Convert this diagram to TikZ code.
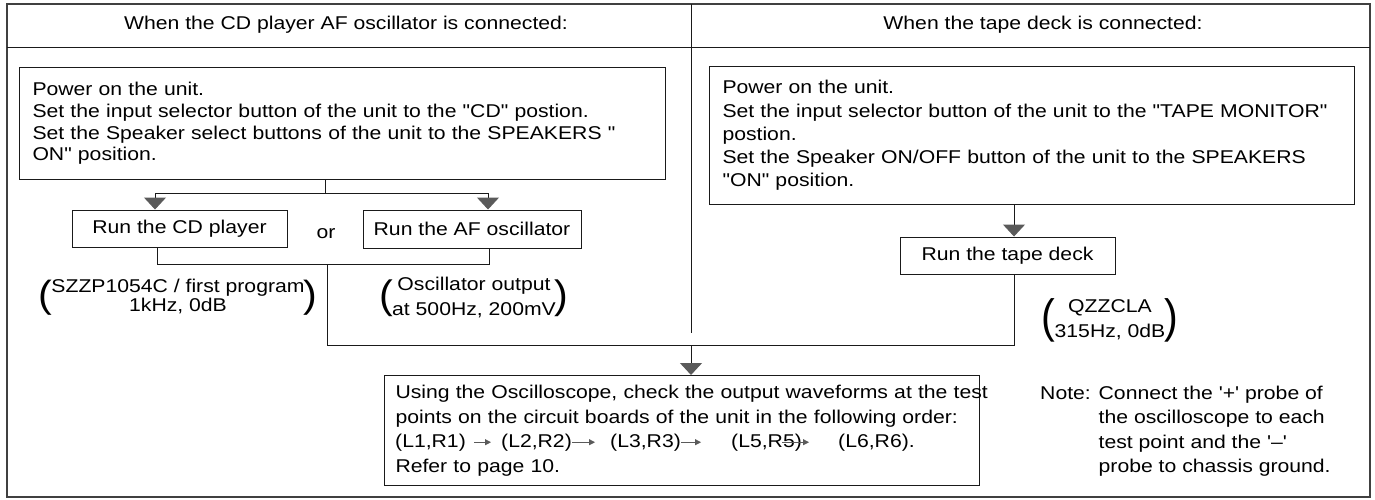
\documentclass[tikz,border=0pt]{standalone}
\usepackage{fontspec}
\setmainfont{Liberation Sans}[FakeStretch=1.145,Ligatures=TeXOff]
\usepackage{graphicx}
\usepackage{xcolor}
\usepackage{tikz}
\usetikzlibrary{calc,arrows.meta}
\definecolor{ink}{HTML}{1A1A1A}
\definecolor{frame}{HTML}{404040}
\definecolor{head}{HTML}{5A5A5A}
\newcommand{\fsa}{\fontsize{18.5}{21.7}\selectfont}
\newcommand{\fsb}{\fontsize{18.5}{23.2}\selectfont}
\newcommand{\fsc}{\fontsize{18.5}{24.5}\selectfont}
\newcommand{\bigp}[2]{$\vcenter{\hbox{\scalebox{1}[#1]{\fontsize{36}{36}\selectfont #2}}}$}
\newcommand{\paren}[4]{\bigp{#4}{(}\hspace{-1pt}{\renewcommand{\arraystretch}{#1}\begin{tabular}{@{}c@{}}#2\\#3\end{tabular}}\hspace{-1pt}\bigp{#4}{)}}
\tikzset{
  wire/.style={draw=ink, line width=1pt},
  arr/.style={wire, -{Triangle[length=12pt,width=22pt,color=head]}},
  sarr/.style={draw=head, line width=0.9pt, -{Triangle[length=6pt,width=6pt,color=head]}},
  box/.style={draw=ink, line width=1pt, anchor=north west, inner xsep=13pt, inner ysep=0pt, align=left},
  run/.style={draw=ink, line width=1pt, inner sep=0pt, font=\fsa},
  lbl/.style={inner sep=0pt, font=\fsa}
}

\begin{document}
\begin{tikzpicture}[x=1pt,y=-1pt]
\useasboundingbox (0,0) rectangle (1375,499);
\draw[draw=frame, line width=1.6pt] (7,4) rectangle (1370,497);
\coordinate (hl) at (7,47);
\coordinate (hr) at (1370,47);
\coordinate (dt) at (691,4);
\coordinate (db) at (691,333);
\draw[wire] (hl) -- (hr);
\draw[wire] (dt) -- (db);

\node[lbl, anchor=base] (hdcd) at (346,29) {When the CD player AF oscillator is connected:};
\node[lbl, anchor=base] (hdtape) at (1043,29) {When the tape deck is connected:};

\node[box, font=\fsa, text width=620pt, minimum height=112pt] (cdset) at (19,67)
  {Power on the unit.\\
   \mbox{Set the input selector button of the unit to the "CD" postion.}\\
   \mbox{Set the Speaker select buttons of the unit to the SPEAKERS "}\\
   ON" position.};
\node[box, font=\fsb, text width=619pt, minimum height=138pt] (tapeset) at (709,66)
  {Power on the unit.\\
   \mbox{Set the input selector button of the unit to the "TAPE MONITOR"}\\
   postion.\\
   \mbox{Set the Speaker ON/OFF button of the unit to the SPEAKERS}\\
   "ON" position.};

\node[run, minimum width=215pt, minimum height=37pt] (cdrun) at (179.5,228.5) {Run the CD player};
\node[lbl, anchor=base] (or) at (326,238) {or};
\node[run, minimum width=218pt, minimum height=38pt] (afrun) at (472,229) {Run the AF oscillator};
\node[run, minimum width=215pt, minimum height=37pt] (taperun) at (1007.5,255.5) {Run the tape deck};

\node[lbl] (cdsig) at (178,298) {\paren{0.88}{SZZP1054C / first program}{1kHz, 0dB}{1.05}};
\node[lbl] (afsig) at (474,298) {\paren{1.12}{Oscillator output}{at 500Hz, 200mV}{1.1}};
\node[lbl] (tapesig) at (1110,320) {\paren{1.18}{QZZCLA}{315Hz, 0dB}{1.3}};

\node[box, font=\fsc, inner xsep=11pt, text width=573pt, minimum height=110pt] (check) at (384,375)
  {\mbox{Using the Oscilloscope, check the output waveforms at the test}\\
   \mbox{points on the circuit boards of the unit in the following order:}\\
   \strut\\
   Refer to page 10.};
\node[lbl, anchor=base west] (p1) at (395,447) {(L1,R1)};
\node[lbl, anchor=base west] (p2) at (501,447) {(L2,R2)};
\node[lbl, anchor=base west] (p3) at (610,447) {(L3,R3)};
\node[lbl, anchor=base west] (p5) at (731,447) {(L5,R5)};
\node[lbl, anchor=base west] (p6) at (838,447) {(L6,R6).};
\draw[sarr] ([xshift=8pt]p1.east) -- ([xshift=-10pt]p2.west);
\draw[sarr] (p2.east) -- ([xshift=23pt]p2.east);
\draw[sarr] (p3.east) -- ([xshift=20pt]p3.east);
\draw[sarr] ([xshift=-20pt]p5.east) -- ([xshift=7pt]p5.east);

\node[lbl, font=\fsc, anchor=base west] (note) at (1040,399)
  {\begin{tabular}[t]{@{}l@{ }l@{}}
   Note: & Connect the '+' probe of\\
         & the oscilloscope to each\\
         & test point and the '–'\\
         & probe to chassis ground.
   \end{tabular}};

\coordinate (split) at (325,193);
\coordinate (jl) at (155,193);
\coordinate (jr) at (488,193);
\draw[wire] (split |- cdset.south) -- (split);
\draw[wire] (jl) -- (jr);
\draw[arr] (jl) -- (jl |- cdrun.north);
\draw[arr] (jr) -- (jr |- afrun.north);

\coordinate (ml) at (157,264);
\coordinate (mr) at (489,264);
\coordinate (mc) at (327,264);
\coordinate (gl) at (327,345);
\coordinate (gc) at (691,345);
\coordinate (gr) at (1014,345);
\draw[wire] (ml |- cdrun.south) -- (ml) -- (mr) -- (mr |- afrun.south);
\draw[wire] (mc) -- (gl) -- (gr) -- (gr |- taperun.south);
\draw[arr] (gc) -- (gc |- check.north);
\draw[arr] (gr |- tapeset.south) -- (gr |- taperun.north);
\end{tikzpicture}
\end{document}
